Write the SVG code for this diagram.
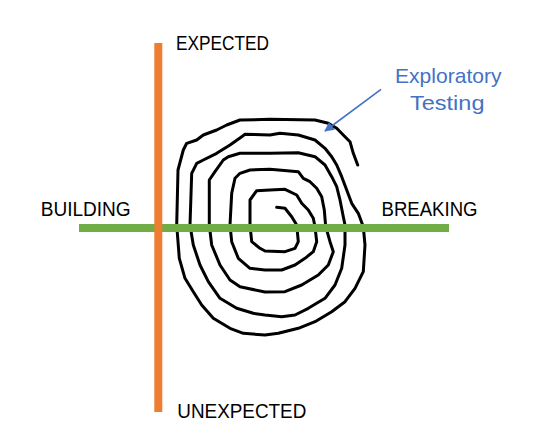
<svg xmlns="http://www.w3.org/2000/svg" width="550" height="443" viewBox="0 0 550 443">
  <style>
    .lbl { font-family: "Liberation Sans", Arial, sans-serif; font-size: 19.5px; fill: #000000; }
    .blue { font-family: "Liberation Sans", Arial, sans-serif; font-size: 21px; fill: #4472C4; }
    .spiral { fill: none; stroke: #000000; stroke-width: 3; stroke-linejoin: round; stroke-linecap: round; }
  </style>
  <defs>
    <marker id="ah" viewBox="0 0 10 10" refX="9" refY="5" markerWidth="6" markerHeight="6" orient="auto" markerUnits="strokeWidth">
      <path d="M0,0 L10,5 L0,10 Z" fill="#4472C4"/>
    </marker>
  </defs>
  <rect width="550" height="443" fill="#ffffff"/>

  <g id="spiral">
    <path class="spiral" d="M276.7,207.3 L285,208.3 L291.7,216.7 L296.7,225 L298.3,241.7 L295,248.3 L285,251.7 L265,251 L260,248.3 L251.7,241.7 L250,225 L250,200 L256.7,190.7 L270,190 L285,189.3 L296.7,195 L301.7,203.3 L308.3,210 L313.3,218.3 L315,226.7 L316.7,241.7 L313.3,251.7 L305,258.3 L295,265 L281.7,270 L265,270 L250,268.3 L238.3,258.3 L231.7,241.7 L230,225 L231.7,193.3 L235,178.3 L240,173.3 L250,170 L270,169.3 L298.3,171.7 L303.3,178.3 L310,181.7 L316.7,188.3 L321.7,196.7 L324.3,210 L325.7,226.7 L330,241.7 L333.3,251.7 L328.3,265 L318.3,275 L301.7,285 L285,291.7 L265,292 L240,286.7 L230,280 L220,265 L211.7,245 L209.3,225 L209.3,180 L215,171.7 L223.3,160 L228.3,156.7 L240,153.3 L270,153.3 L298.3,152.7 L315,156.7 L325,165 L331.7,176.7 L336.7,186.7 L340,200 L343.3,216.7 L345,225 L345,245 L341.7,268.3 L335,285 L325,298.3 L308.3,308.3 L295,315 L281.7,316.7 L265,315 L253.3,313.3 L236.7,308.3 L220,298.3 L208.3,281.7 L200,265 L193.3,245 L190,225 L191.7,173.3 L196.7,163.3 L203.3,160 L216.7,153.3 L230,145 L241.7,136.7 L245,134.3 L270,135 L280,133.3 L298.3,135 L315,140 L325,148.3 L331.7,156.7 L336.7,165 L341.7,176.7 L346.7,190 L351.7,203.3 L358.3,213.3 L363.3,226.7 L365,245 L363.3,271.7 L355,288.3 L345,301.7 L331.7,311.7 L315,321.7 L298.3,328.3 L278.3,333.3 L265,335 L243.3,333.3 L230,328.3 L213.3,318.3 L201.7,305 L193.3,291.7 L185,278.3 L179.3,258.3 L176.7,225 L178,170 L183.3,150 L186.7,143.3 L196.7,140 L203.3,135 L216.7,130 L226.7,125 L240,120 L270,119.3 L315,120 L328.3,123.3 L336.7,128.3 L345,136.7 L350,141.7 L353.3,153.3 L357.7,165"/>
  </g>

  <g id="axis-building-breaking">
    <line x1="79" y1="228" x2="449" y2="228" stroke="#70AD47" stroke-width="8"/>
  </g>
  <g id="axis-expected-unexpected">
    <line x1="158.3" y1="43" x2="158.3" y2="412" stroke="#ED7D31" stroke-width="8"/>
  </g>

  <g id="label-expected"><text class="lbl" x="176" y="50" textLength="93" lengthAdjust="spacingAndGlyphs">EXPECTED</text></g>
  <g id="label-unexpected"><text class="lbl" x="177.3" y="418" textLength="129" lengthAdjust="spacingAndGlyphs">UNEXPECTED</text></g>
  <g id="label-building"><text class="lbl" x="40.7" y="216" textLength="90" lengthAdjust="spacingAndGlyphs">BUILDING</text></g>
  <g id="label-breaking"><text class="lbl" x="381.5" y="216" textLength="96" lengthAdjust="spacingAndGlyphs">BREAKING</text></g>

  <g id="exploratory-testing">
    <text class="blue" x="395" y="83" textLength="106.5" lengthAdjust="spacingAndGlyphs">Exploratory</text>
    <text class="blue" x="410" y="110" textLength="74.5" lengthAdjust="spacingAndGlyphs">Testing</text>
  </g>

  <g id="connectors">
    <line x1="381" y1="89.3" x2="325" y2="131" stroke="#4472C4" stroke-width="1.6" marker-end="url(#ah)"/>
  </g>
</svg>
